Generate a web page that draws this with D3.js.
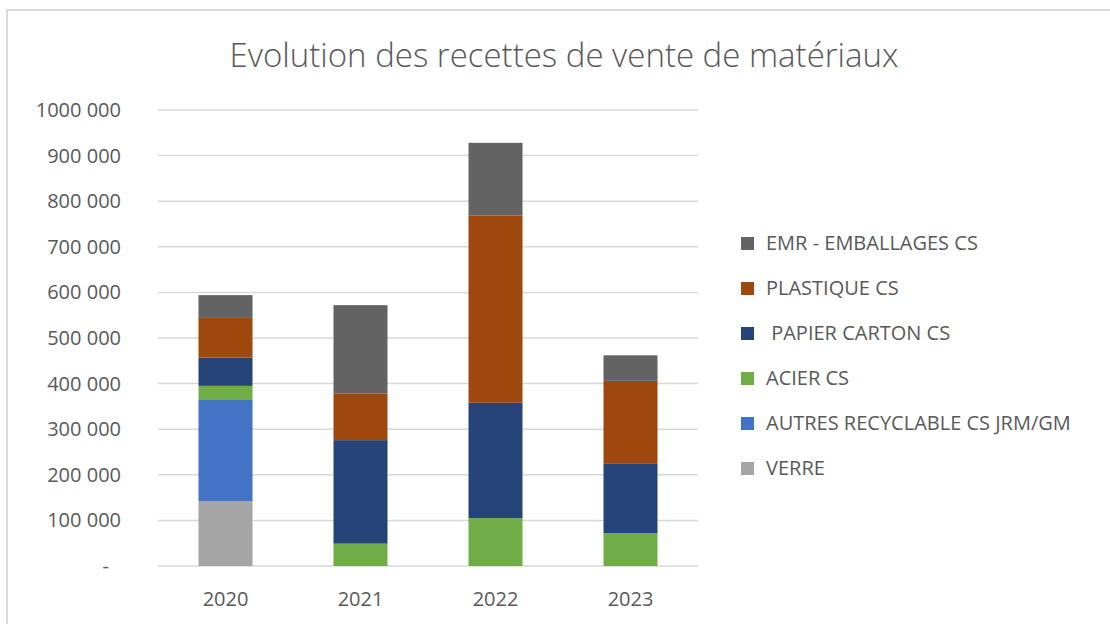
<!DOCTYPE html>
<html>
<head>
<meta charset="utf-8">
<script src="https://cdn.jsdelivr.net/npm/d3@7"></script>
<style>
  body { margin: 0; background: #fff; }
  text { font-family: "Open Sans", sans-serif; fill: #595959; }
</style>
</head>
<body>
<div id="chart"></div>
<script>
// data
var years = ["2020", "2021", "2022", "2023"];
var series = ["VERRE", "AUTRES RECYCLABLE CS JRM/GM", "ACIER CS", " PAPIER CARTON CS", "PLASTIQUE CS", "EMR - EMBALLAGES CS"];
var colors = ["#a5a5a5", "#4472c4", "#70ad47", "#264478", "#9e480e", "#636363"];
var verre     = [142000, 0, 0, 0];
var autres    = [222000, 0, 0, 0];
var acier     = [31000, 49000, 105000, 72000];
var papier    = [62000, 227000, 253000, 152000];
var plastique = [87000, 102000, 411000, 182000];
var emr       = [50000, 194000, 159000, 56000];
var tickValues = [0, 100000, 200000, 300000, 400000, 500000, 600000, 700000, 800000, 900000, 1000000];
var tickLabels = ["-", "100 000", "200 000", "300 000", "400 000", "500 000", "600 000", "700 000", "800 000", "900 000", "1000 000"];

var values = [verre, autres, acier, papier, plastique, emr];
var rows = years.map(function(y, i) {
  var r = { year: y };
  series.forEach(function(s, j) { r[s] = values[j][i]; });
  return r;
});

var width = 1110, height = 624;
var svg = d3.select("#chart").append("svg")
    .attr("width", width)
    .attr("height", height);

// chart frame (only top and left edges show)
svg.append("line").attr("x1", 6).attr("x2", width).attr("y1", 10).attr("y2", 10)
    .attr("stroke", "#d9d9d9").attr("stroke-width", 2);
svg.append("line").attr("x1", 7).attr("x2", 7).attr("y1", 10).attr("y2", height)
    .attr("stroke", "#d9d9d9").attr("stroke-width", 2);

var x = d3.scaleBand().domain(years).range([158, 698]).paddingInner(0.6).paddingOuter(0.3);
var y = d3.scaleLinear().domain([0, 1000000]).range([566, 110]);

svg.append("text")
    .attr("x", 564).attr("y", 67)
    .attr("text-anchor", "middle")
    .style("font-size", "33px")
    .style("font-weight", 300)
    .text("Evolution des recettes de vente de matériaux");

// gridlines
svg.append("g").selectAll("line")
  .data(tickValues)
  .enter().append("line")
    .attr("x1", 158).attr("x2", 698)
    .attr("y1", function(d) { return y(d); })
    .attr("y2", function(d) { return y(d); })
    .attr("stroke", "#d9d9d9")
    .attr("stroke-width", 1.5);

// y labels
svg.append("g").selectAll("text")
  .data(tickValues)
  .enter().append("text")
    .attr("x", function(d, i) { return i === 0 ? 109 : 121; })
    .attr("y", function(d) { return y(d); })
    .attr("dy", "0.35em")
    .attr("text-anchor", "end")
    .style("font-size", "20px")
    .text(function(d, i) { return tickLabels[i]; });

// x labels
svg.append("g").selectAll("text")
  .data(years)
  .enter().append("text")
    .attr("x", function(d) { return x(d) + x.bandwidth() / 2; })
    .attr("y", 599)
    .attr("dy", "0.35em")
    .attr("text-anchor", "middle")
    .style("font-size", "20px")
    .text(function(d) { return d; });

var stack = d3.stack().keys(series);
var layers = stack(rows);

svg.append("g").selectAll("g")
  .data(layers)
  .enter().append("g")
    .attr("fill", function(d, i) { return colors[i]; })
  .selectAll("rect")
  .data(function(d) { return d; })
  .enter().append("rect")
    .attr("x", function(d) { return x(d.data.year); })
    .attr("width", x.bandwidth())
    .attr("y", function(d) { return y(d[1]); })
    .attr("height", function(d) { return y(d[0]) - y(d[1]); });

// legend (top to bottom = reverse of stack)
var legendOrder = d3.range(series.length).reverse();
var legend = svg.append("g").selectAll("g")
  .data(legendOrder)
  .enter().append("g")
    .attr("transform", function(d, i) { return "translate(741," + (243 + i * 45) + ")"; });
legend.append("rect")
    .attr("x", 0).attr("y", -6)
    .attr("width", 13).attr("height", 13)
    .attr("fill", function(d) { return colors[d]; });
legend.append("text")
    .attr("x", 25)
    .attr("dy", "0.35em")
    .attr("xml:space", "preserve")
    .style("white-space", "pre")
    .style("font-size", "20px")
    .text(function(d) { return series[d]; });
</script>
</body>
</html>
